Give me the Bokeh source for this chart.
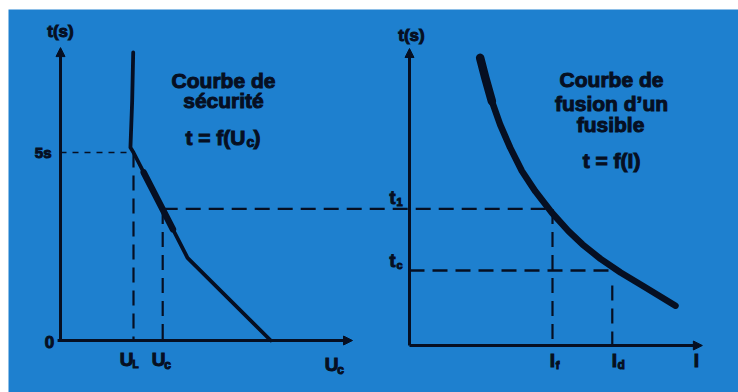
from bokeh.plotting import figure
from bokeh.models import Range1d, Arrow, NormalHead
from bokeh.core.properties import value
from bokeh.embed import file_html
from bokeh.resources import INLINE

# ---------------- data ----------------
U_L = 50.0          # limit voltage (V)
U_C = 70.0          # contact voltage (V)
T_5S = 5.0          # s
T_1 = 3.5           # s
T_C = 1.92          # s
I_F = 5.0
I_D = 7.09

# safety curve t = f(Uc)
safety_U = [49.8, 49.1, 47.9, 50.0, 87.0, 144.0]
safety_t = [7.66, 6.38, 5.13, 5.0, 2.2, 0.0]
thick_U = [57.0, 77.0]
thick_t = [4.47, 2.96]

# fuse melting curve t = f(I)
fuse_I = [2.47, 2.65, 2.88, 3.17, 3.52, 3.93, 4.40, 4.98, 5.56, 6.05, 6.68, 7.38, 8.18, 9.30]
fuse_t = [7.37, 6.86, 6.26, 5.66, 5.07, 4.47, 3.95, 3.40, 2.93, 2.59, 2.22, 1.87, 1.52, 1.02]
fuse_top_I = [2.47, 2.65, 2.88]
fuse_top_t = [7.37, 6.86, 6.26]

U_axis_end = 200.0
tL_axis_end = 7.79
I_axis_end = 10.24
tR_axis_end = 7.61
tc_line_end_I = 7.03
Id_line_top_t = 1.54

# ---------------- layout / style ----------------
BLUE = "#1e80cf"
INK = "#060f22"
FONT = "Liberation Sans"

W, H = 738, 392
FX0, FX1, FY0, FY1 = 8, 738, 9, 392          # blue frame in page pixels
L_OX, L_OY, L_SX, L_SY = 60, 340, 1.46, 37.6  # left panel origin & scale
R_OX, R_OY, R_SX = 409, 345, 28.6             # right panel origin & scale
R_SY = (R_OY - (L_OY - T_1 * L_SY)) / T_1


def lx(u):
    return L_OX + u * L_SX


def rx(i):
    return R_OX + i * R_SX


def ly(t):
    return L_OY - t * L_SY


p = figure(width=W, height=H,
           x_range=Range1d((FX0 - L_OX) / L_SX, (FX1 - L_OX) / L_SX),
           y_range=Range1d((L_OY - FY1) / L_SY, (L_OY - FY0) / L_SY),
           x_axis_type=None, y_axis_type=None,
           toolbar_location=None, output_backend="svg",
           min_border_left=FX0, min_border_top=FY0,
           min_border_right=0, min_border_bottom=0,
           background_fill_color=BLUE, border_fill_color="white",
           outline_line_color=None)
p.extra_x_ranges = {"I": Range1d((FX0 - R_OX) / R_SX, (FX1 - R_OX) / R_SX),
                    "px": Range1d(FX0, FX1)}
p.extra_y_ranges = {"tR": Range1d((R_OY - FY1) / R_SY, (R_OY - FY0) / R_SY),
                    "px": Range1d(FY1, FY0)}

R = dict(x_range_name="I", y_range_name="tR")
PX = dict(x_range_name="px", y_range_name="px")

DASH = "15 8"


# ---- axes (arrows) ----
def axis_arrow(x0, y0, x1, y1, **kw):
    p.add_layout(Arrow(x_start=x0, y_start=y0, x_end=x1, y_end=y1,
                       line_color=INK, line_width=3,
                       end=NormalHead(size=9, fill_color=INK, line_color=INK, line_width=1),
                       **kw))


axis_arrow(0, 0, 0, tL_axis_end)
axis_arrow(-2, 0, U_axis_end, 0)
axis_arrow(0, 0, 0, tR_axis_end, x_range_name="I", y_range_name="tR")
axis_arrow(0, 0, I_axis_end, 0, x_range_name="I", y_range_name="tR")

# ---- left panel ----
p.line([0, U_L], [T_5S, T_5S], line_color=INK, line_width=1.6, line_dash="6 6")
p.line([U_L, U_L], [T_5S, 0], line_color=INK, line_width=2.2, line_dash=DASH)
p.line([U_C, U_C], [T_1, 0], line_color=INK, line_width=2.2, line_dash=DASH)
p.line(safety_U, safety_t, line_color=INK, line_width=3.8, line_join="round", line_cap="round")
p.line(thick_U, thick_t, line_color=INK, line_width=6.5, line_cap="round")

# connecting t1 dashed line (spans both panels, page-pixel space)
p.line([lx(U_C), rx(I_F)], [ly(T_1), ly(T_1)], line_color=INK, line_width=2.4,
       line_dash=DASH, **PX)

# ---- right panel ----
p.line([0, tc_line_end_I], [T_C, T_C], line_color=INK, line_width=2.4, line_dash=DASH, **R)
p.line([I_F, I_F], [T_1, 0], line_color=INK, line_width=2.2, line_dash=DASH, **R)
p.line([I_D, I_D], [Id_line_top_t, 0], line_color=INK, line_width=2.2, line_dash=DASH, **R)
p.line(fuse_I, fuse_t, line_color=INK, line_width=6.5, line_join="round", line_cap="round", **R)
p.line(fuse_top_I, fuse_top_t, line_color=INK, line_width=8.5, line_join="round", line_cap="round", **R)


# ---- texts ----
def txt(x, y, s, size, align="center", xr="px", yr="px", dx=0):
    p.text(x=[x], y=[y], text=[s], x_range_name=xr, y_range_name=yr,
           text_font=value(FONT), text_font_size=f"{size}px", text_font_style="bold",
           text_color=INK, text_align=align, text_baseline="middle", x_offset=dx,
           text_outline_color=INK)


# left titles
txt(223, 80, "Courbe de", 21)
txt(223, 100, "sécurité", 21)
txt(245, 137, "t = f(U", 21, align="right")
txt(246, 141, "c", 14, align="left")
txt(253, 137, ")", 21, align="left")

# right titles
txt(611, 79, "Courbe de", 21)
txt(611, 103, "fusion d’un", 21)
txt(610, 124, "fusible", 21)
txt(611, 160, "t = f(I)", 21)

# left axis labels
txt(60, 31, "t(s)", 17)
txt(51, 152, "5s", 15, align="right")
txt(49, 341, "0", 17)
txt(U_L, 359, "U", 19, xr="default", dx=-7)
txt(U_L, 364, "L", 10, xr="default", dx=2)
txt(U_C, 359, "U", 19, xr="default", dx=-4)
txt(U_C, 364, "c", 12, xr="default", dx=5)
txt(331, 364, "U", 19)
txt(340, 369, "c", 12)

# right axis labels
txt(411, 35, "t(s)", 17)
txt(392, 197, "t", 18)
txt(399, 201, "1", 11)
txt(392, 260, "t", 18)
txt(399, 264, "c", 11)
txt(I_F, 360, "I", 19, xr="I", dx=0)
txt(I_F, 364, "f", 11, xr="I", dx=5)
txt(I_D, 360, "I", 19, xr="I", dx=2)
txt(I_D, 364, "d", 12, xr="I", dx=9)
txt(696, 360, "I", 19)

open("out.html", "w").write(file_html(p, INLINE))
